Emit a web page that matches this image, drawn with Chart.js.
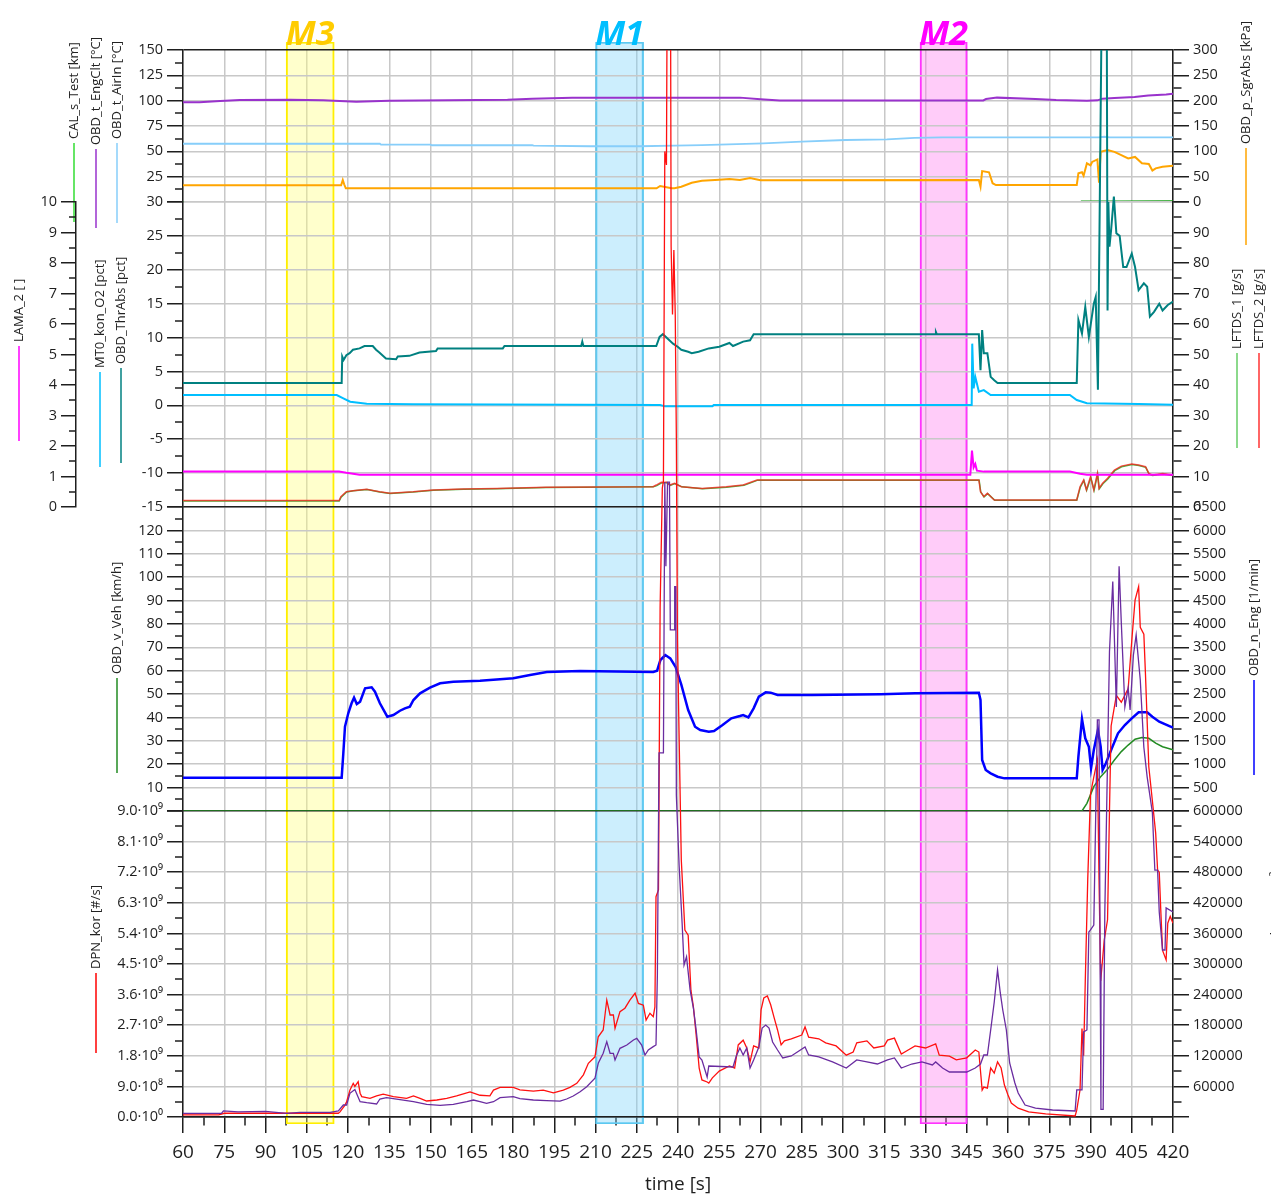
<!DOCTYPE html>
<html>
<head>
<meta charset="utf-8">
<title>Messfahrt</title>
<script src="https://cdn.jsdelivr.net/npm/chart.js@4.4.1/dist/chart.umd.min.js"></script>
<style>
  body { margin: 0; background: #fff; }
  #wrap { position: relative; width: 1280px; height: 1196px; }
  #wrap canvas { position: absolute; left: 0; top: 0; }
</style>
</head>
<body>
<div id="wrap">
  <canvas id="cBase" width="1280" height="1196"></canvas>
  <canvas id="cBand" width="1280" height="1196"></canvas>
  <canvas id="cTop" width="1280" height="1196"></canvas>
  <canvas id="cMid" width="1280" height="1196"></canvas>
  <canvas id="cSpeed" width="1280" height="1196"></canvas>
  <canvas id="cPn" width="1280" height="1196"></canvas>
</div>
<script>
// time axis [s]
const T_MIN = 60, T_MAX = 420;

// marker windows
const markerNames = ['M3', 'M1', 'M2'];
const markerStart = [97.5, 210, 328];
const markerEnd = [115, 227.5, 345.2];

// DPN axis tick labels
const dpnTicks = ['0.0·10⁰', '9.0·10⁸', '1.8·10⁹', '2.7·10⁹', '3.6·10⁹', '4.5·10⁹',
  '5.4·10⁹', '6.3·10⁹', '7.2·10⁹', '8.1·10⁹', '9.0·10⁹'];

// ---- panel 1, upper part: [t, value]
const engClt = [[60,98.4],[66,98.4],[73.5,99.7],[80.7,100.6],[99,101],[111,100.3],[123,99],[135,100],
  [178,101],[187,102],[201.5,103],[262.5,103],[270,101.5],[277,100.2],[351,100.2],[352,101.6],[356,103],
  [370,101.6],[377.5,100.6],[388.7,100],[392.5,100.3],[394.4,102],[398.7,102.6],[406,103.6],[411,105.2],
  [417.5,106.2],[420,106.8]];
const airIn = [[60,57.5],[131.6,57.5],[132,56.6],[150,56.6],[150.5,56],[187,56],[187.5,55.6],[208,55],
  [226,55],[238.7,55.6],[248.7,56.2],[271,57.9],[285,59.5],[301,61.2],[316,61.8],[326,63.2],[336,63.8],
  [393,63.8],[395,64.4],[397,63.8],[420,63.8]];
const calTest = [[60,0],[386.5,0],[400,0.1],[420,0.3]];
const sgrAbs = [[60,33],[117.5,33],[118.1,43.4],[118.6,35],[119.2,27],[232.2,27],[233.5,31.6],[237.7,27],
  [238.7,27],[241.2,30],[245,38],[248.7,42],[255,44],[258.7,45.4],[262.5,43.4],[266.2,47.4],[270,42.8],
  [349.4,43.4],[350,30.3],[350.6,61],[353.1,58.6],[354.4,37],[355.6,33.5],[385,33.5],[385.6,56.6],
  [386.9,58.6],[387.5,52],[388.7,76.3],[390,72.5],[390.6,79],[392.5,84],[393.1,38],[393.7,99],[396.2,102.6],
  [398.7,99],[401.2,92.7],[403.7,86],[406.2,89],[408.7,76.3],[411.2,75],[412.5,62],[413.7,66.5],
  [416.2,69.7],[420,71.7]];

// ---- panel 1, lower part
const thrAbs = [[60,3.3],[117.7,3.3],[117.9,7.2],[118.4,6.7],[119.4,7.4],[120.6,7.7],[121.8,8.2],[124.2,8.4],
  [126,8.75],[129,8.75],[130.2,8.2],[131.4,7.8],[133.8,6.9],[137.5,6.8],[138.1,7.2],[142.3,7.3],[146,7.8],
  [152,8.0],[152.6,8.4],[176.3,8.4],[176.9,8.75],[204.8,8.75],[205.2,9.4],[205.6,8.75],[232.1,8.75],
  [233.3,10.1],[234.5,10.5],[235.8,10.0],[238.2,9.1],[240,8.6],[241.2,8.2],[243.7,7.9],[245,7.7],[247.5,7.9],
  [251.2,8.4],[255,8.65],[258.7,9.2],[260,8.75],[263.7,9.4],[266.2,9.6],[267.5,10.5],[333.5,10.5],
  [333.8,10.8],[334.1,10.5],[349.4,10.5],[350,5.2],[350.6,11.1],[351.2,7.7],[352.5,7.7],[353.7,4.2],
  [355,3.7],[356.2,3.3],[385,3.3],[385.6,12.6],[386.9,10.6],[388.1,14.5],[389.4,10.1],[391.2,15.0],
  [391.9,16.0],[392.7,2.3],[394.1,60],[395.9,60],[396.2,14],[396.5,30],[396.9,23.4],[397.5,25.9],
  [398.5,30.8],[399.4,25.4],[400.6,25],[401.9,20.4],[403.1,20.4],[405,22.4],[406.2,20.4],[407.5,17],
  [409.4,18],[410.6,17.5],[411.6,13.1],[413.1,13.8],[415,15],[416.2,14],[418.1,14.8],[420,15.3]];
const mt0O2 = [[60,1.52],[115.9,1.52],[118.3,1.03],[120.8,0.53],[126.8,0.24],[143.8,0.15],[233.5,0.04],
  [235.3,-0.15],[252.5,-0.15],[253,0.04],[346.8,0.04],[347,9.1],[347.5,2.5],[348.1,4.2],[349.4,2.0],
  [351.2,2.25],[353.7,1.52],[382.5,1.52],[385,0.78],[388.7,0.3],[407.5,0.2],[420,0.09]];
const lama2 = [[60,1.16],[116.7,1.16],[119.4,1.12],[124.2,1.06],[346.3,1.06],[346.9,1.85],[347.5,1.3],
  [348.1,1.41],[348.7,1.19],[351.2,1.16],[382.5,1.16],[386.2,1.09],[388.7,1.06],[420,1.06]];
const lftds2 = [[60,2.1],[116.8,2.1],[117.4,3.4],[119.4,5.0],[121.8,5.35],[126.7,5.8],[131.5,5.0],[135.2,4.5],
  [143.7,5.0],[151,5.6],[161.8,5.9],[174,6.1],[192.1,6.45],[230.9,6.66],[232.1,7.2],[233.9,8.1],[235.8,8.1],
  [237,7.2],[238.7,7.8],[241.2,6.66],[248.7,6.1],[257.5,6.6],[263.7,7.2],[268.7,8.85],[349.4,8.85],[350,5.0],
  [351.2,3.4],[352.5,4.5],[355,2.3],[385,2.3],[386.2,6.66],[387.5,8.85],[388.5,5.6],[390,9.9],[391.2,5.6],
  [392.5,11.0],[393.1,6.1],[394.4,7.8],[396.2,9.4],[398.7,12.1],[401.2,13.4],[405,14.1],[407.5,13.8],
  [410,13.2],[411.2,11.0],[412.5,10.5],[416.2,11],[420,10.5]];
const lftds1 = [[60,2.0],[116.8,2.0],[117.5,3.2],[119.5,4.9],[122,5.3],[127,5.7],[131.5,4.9],[135.3,4.4],
  [143.7,4.9],[151,5.5],[162,5.8],[174,6.0],[192,6.4],[231,6.6],[232.3,7.0],[234,7.9],[236,8.0],[237.2,7.1],
  [238.9,7.7],[241.4,6.6],[249,6.0],[257.7,6.5],[264,7.1],[269,8.8],[349.5,8.8],[350.1,4.9],[351.3,3.3],
  [352.6,4.4],[355.2,2.2],[385,2.2],[386.3,6.5],[387.6,8.7],[388.6,5.5],[390.1,9.7],[391.3,5.5],[392.6,10.8],
  [393.2,6.0],[394.5,7.6],[396.3,9.2],[398.8,11.9],[401.3,13.2],[405.1,13.9],[407.6,13.6],[410.1,13.0],
  [411.3,10.8],[412.6,10.3],[416.3,10.8],[420,10.3]];

// ---- panel 2
const nEng = [[60,712],[117.7,712],[118.3,1234],[118.9,1802],[120.1,2089],[121.3,2303],[122.2,2423],
  [123.2,2288],[124.4,2337],[126.2,2623],[128.6,2644],[129.8,2551],[131.6,2303],[134.3,2016],[136.5,2052],
  [138.9,2144],[140.7,2195],[142.5,2230],[143.8,2373],[146.2,2516],[149.8,2636],[153.5,2730],[158.3,2765],
  [168,2786],[180.1,2837],[186.2,2908],[192.3,2972],[204.4,2993],[231,2972],[232.4,3000],[233.6,3228],
  [235.4,3335],[237.2,3264],[239.1,3085],[241.2,2700],[243.7,2159],[246.2,1802],[248.1,1732],[251.2,1695],
  [253.1,1710],[256.2,1839],[259.4,1982],[262.5,2031],[263.7,2052],[265.6,2003],[267.5,2195],[269.4,2444],
  [271.9,2537],[273.7,2530],[276.2,2480],[288.7,2480],[313.7,2494],[326.2,2516],[349.4,2530],[350,2373],
  [350.6,1090],[351.9,877],[353.7,806],[356.2,733],[358.7,698],[385,698],[385.6,1161],[386.9,1967],
  [388.1,1554],[389.4,1375],[390.2,913],[391.2,1304],[392.7,1732],[393.7,1375],[394.4,877],[395.6,1020],
  [397.5,1304],[400,1661],[402.5,1839],[405,1982],[407.5,2110],[410.6,2110],[412.5,2016],[415,1909],
  [418.7,1817],[420,1781]];
const vVeh = [[60,0],[386.9,0],[388.7,3.3],[391.2,10.4],[393.7,14.7],[396.2,17.8],[398.7,21.8],[401.2,25.4],
  [403.7,28.2],[406.2,30.7],[408.7,31.4],[411.2,31.1],[413.7,29.0],[416.2,27.5],[420,26.2]];

// ---- panel 3
const dpnKor = [[60,0.06e9],[73,0.06e9],[75,0.11e9],[116.5,0.11e9],[117.1,0.15e9],[118.9,0.35e9],[119.5,0.45e9],
  [120.7,0.79e9],[121.9,0.99e9],[122.5,0.9e9],[123.7,1.04e9],[124.4,0.7e9],[125,0.6e9],[128,0.55e9],
  [130.4,0.62e9],[132.8,0.67e9],[136.5,0.6e9],[141.3,0.55e9],[143.8,0.62e9],[146.2,0.55e9],[148.6,0.47e9],
  [152.3,0.5e9],[155.9,0.55e9],[159.5,0.62e9],[164.4,0.74e9],[168,0.64e9],[171.6,0.62e9],[172.9,0.79e9],
  [175.3,0.87e9],[180.1,0.87e9],[182.5,0.8e9],[187.4,0.76e9],[191,0.79e9],[194.7,0.71e9],[198.3,0.79e9],
  [200.7,0.87e9],[203.2,0.99e9],[205.6,1.24e9],[207.4,1.58e9],[209.8,1.77e9],[211,2.36e9],[212.8,2.56e9],
  [214.1,3.44e9],[215.3,3.0e9],[216.5,3.0e9],[217.1,2.61e9],[218.9,3.1e9],[220.7,3.2e9],[222.5,3.44e9],
  [224.4,3.64e9],[225.6,3.34e9],[227.4,3.29e9],[228.4,2.85e9],[229.8,3.05e9],[231,2.95e9],[231.6,3.24e9],
  [232,6.48e9],[232.9,6.68e9],[233.5,1.5e10],[234.3,1.85e10],[234.7,1.87e10],[235.2,2.84e10],[235.8,2.8e10],
  [236.2,3.6e10],[237.2,3.6e10],[237.5,2.56e10],[238,2.36e10],[238.5,2.55e10],[239,2.36e10],[239.4,2.0e10],
  [239.8,1.4e10],[240.6,1.03e10],[241.2,7.56e9],[242.5,5.5e9],[243.7,5.35e9],[244.7,3.73e9],[245.6,3.24e9],
  [246.6,2.41e9],[247.7,1.44e9],[248.7,1.09e9],[250.6,1.03e9],[251.2,1.0e9],[252.5,1.15e9],[255,1.35e9],
  [258.7,1.5e9],[260.6,1.44e9],[261.9,2.12e9],[263.7,2.26e9],[265,2.03e9],[266.2,1.62e9],[267.5,2.09e9],
  [269.4,2.03e9],[270.2,3.15e9],[271.2,3.5e9],[272.5,3.56e9],[273.7,3.3e9],[275,2.91e9],[276.2,2.56e9],
  [277.5,2.12e9],[278.7,2.24e9],[281.2,2.3e9],[285,2.41e9],[286.2,2.65e9],[287.5,2.35e9],[291.2,2.3e9],
  [293.7,2.18e9],[297.5,2.09e9],[301.2,1.82e9],[303.7,1.91e9],[305,2.18e9],[308.7,2.24e9],[311.2,2.03e9],
  [315,2.09e9],[316.2,2.26e9],[318.7,2.32e9],[321.2,1.85e9],[323.7,1.97e9],[326.2,2.09e9],[330,2.03e9],
  [333.7,2.15e9],[335,1.82e9],[338.7,1.79e9],[341.2,1.68e9],[345,1.74e9],[348.1,1.97e9],[349.4,1.91e9],
  [350.6,0.79e9],[351.2,0.88e9],[352.5,0.85e9],[353.7,1.44e9],[355,1.29e9],[356.2,1.62e9],[357.5,1.44e9],
  [358.7,0.94e9],[360,0.65e9],[361.2,0.41e9],[363.7,0.26e9],[367.5,0.15e9],[373.7,0.09e9],[384.4,0.03e9],
  [385,0.2e9],[386.2,0.8e9],[386.9,2.6e9],[387.5,1.8e9],[388.1,4.0e9],[389,7e9],[390,9.5e9],[391.2,1.0e10],
  [392.5,1.05e10],[393.1,7e9],[393.7,4.0e9],[395,5.2e9],[396.2,5.8e9],[396.9,9e9],[397.5,1.15e10],
  [399.4,1.24e10],[401.2,1.22e10],[403.7,1.26e10],[405,1.4e10],[406.2,1.52e10],[407.5,1.56e10],
  [408.1,1.44e10],[409.4,1.42e10],[410,1.3e10],[411.2,1.03e10],[412.5,9.3e9],[413.7,8.35e9],[414.4,7.26e9],
  [415,7.2e9],[415.6,6.0e9],[416.2,4.9e9],[417.5,4.62e9],[418.1,5.7e9],[419,5.9e9],[420,5.7e9]];
const naPn = [[60,7000],[74,7000],[74.7,12000],[80,10000],[90,11000],[97.7,7000],[102.5,9000],[113.5,9000],
  [116.5,12000],[118.3,23500],[119.5,23500],[120.7,46500],[122.5,54000],[124.4,30000],[126.8,28000],
  [130.4,25500],[131.6,35300],[134,37800],[138.9,34000],[143.8,30000],[148.6,24900],[153.5,22900],
  [158.3,24900],[163.2,30000],[165.6,33300],[168,30000],[170.4,26900],[172.9,30000],[175.3,37800],
  [180.1,39800],[182.5,36000],[187.4,33300],[192.2,32000],[197.1,31000],[199.5,35300],[201.9,41200],
  [204.4,49600],[206.8,59400],[209.8,75900],[211,105300],[212.8,124900],[214.1,147700],[215.3,124900],
  [216.5,124900],[217.1,111800],[218.9,134700],[221.4,141200],[223.8,151000],[225,154300],[226.8,141200],
  [228,121600],[229.2,131400],[231,137900],[232,141200],[232.5,278500],[233.1,714000],[234.7,714000],
  [235.2,1245000],[235.6,1080000],[236.2,1245000],[236.9,1245000],[237.2,955000],[238.6,955000],
  [238.8,1040000],[239.2,1040000],[239.4,631000],[240.4,494000],[241.5,380000],[242.2,298000],
  [243.1,314000],[244.4,249000],[245.6,213700],[246.6,170600],[247.7,117700],[248.7,111800],[250.6,78400],
  [251.2,100000],[260,98000],[261.2,119600],[262.5,135300],[263.7,121600],[265,135300],[266.2,96100],
  [267.5,111800],[269.4,137300],[270.6,174500],[271.9,180400],[273.1,174500],[274.4,147100],[276.2,131400],
  [278.1,115700],[281.2,119600],[286.2,137300],[287.5,121600],[291.2,117700],[296.2,107900],[301.2,96100],
  [305,111800],[308.7,107900],[312.5,103900],[316.2,111800],[318.7,115700],[321.2,96100],[325,103900],
  [328.7,107900],[332.5,102000],[333.7,107900],[336.2,96100],[338.7,88200],[345,88200],[348.1,96100],
  [350,103900],[351.2,121600],[352.5,121600],[353.7,170600],[355,225500],[356.2,288300],[357.2,243200],
  [358.1,209800],[359.4,170600],[360.6,105900],[362.5,66700],[363.7,47100],[366.2,23500],[370,17600],
  [376.2,13700],[384.4,11800],[385,53000],[386.9,53000],[387.5,166700],[388.7,170600],[389.4,362800],
  [390,366700],[391.2,376500],[391.9,592200],[392.5,778500],[393.1,778500],[393.5,300000],[393.8,15000],
  [394.6,15000],[395.2,400000],[396.9,912000],[398.1,1050000],[399.4,804000],[400.4,1080000],[401.2,969000],
  [402.5,804000],[403.7,841000],[404.4,798000],[405.6,906000],[406.6,945000],[408.1,857000],[409.4,725000],
  [410.6,667000],[412.5,597000],[413.4,484000],[414.4,484000],[415,402000],[416.2,327500],[417.1,327500],
  [417.5,410000],[420,402000]];

// ---- look
Chart.defaults.font.family = "'Open Sans', 'Noto Sans', sans-serif";
const INK = '#1e1e1e';
const GRID = '#c8c8c8';

// rotated axis captions with their colour keys (layout only)
const sideLabels = [
  { text: 'LAMA_2 [ ]', color: '#ff00ff', x: 19, y0: 346, y1: 441 },
  { text: 'CAL_s_Test [km]', color: '#33dd33', x: 74, y0: 143, y1: 222 },
  { text: 'OBD_t_EngClt [°C]', color: '#9932cc', x: 96, y0: 149, y1: 228 },
  { text: 'OBD_t_AirIn [°C]', color: '#87cefa', x: 117, y0: 143, y1: 223 },
  { text: 'MT0_kon_O2 [pct]', color: '#00bfff', x: 100, y0: 372, y1: 467 },
  { text: 'OBD_ThrAbs [pct]', color: '#008080', x: 121, y0: 368, y1: 463 },
  { text: 'OBD_v_Veh [km/h]', color: '#228b22', x: 117, y0: 678, y1: 773 },
  { text: 'DPN_kor [#/s]', color: '#ff0000', x: 96, y0: 973, y1: 1053 },
  { text: 'OBD_p_SgrAbs [kPa]', color: '#ffa500', x: 1246, y0: 148, y1: 245 },
  { text: 'LFTDS_1 [g/s]', color: '#66cc66', x: 1237, y0: 353, y1: 448 },
  { text: 'LFTDS_2 [g/s]', color: '#ff3333', x: 1259, y0: 353, y1: 448 },
  { text: 'OBD_n_Eng [1/min]', color: '#0000ff', x: 1254, y0: 680, y1: 775 },
  { text: 'N/a_PN_kor [#/cm³]', color: null, x: 1276, y0: 990, y1: 990, cut: 1271 }
];
const markerEdge = ['#ffee00', '#5cc8f0', '#ff33ff'];
const markerFill = ['rgba(255,255,120,0.38)', 'rgba(120,210,250,0.38)', 'rgba(255,120,240,0.38)'];
const markerText = ['#ffcc00', '#00bfff', '#ff00ff'];

function isMultiple(v, step) {
  const r = v / step;
  return Math.abs(r - Math.round(r)) < 1e-6;
}
function inList(list, v) {
  return (list || []).some(b => Math.abs(v - b) <= 1e-6 * Math.max(1, Math.abs(b)));
}

// y axis with labelled major ticks and short unlabelled minor ticks
function yAxis(o) {
  const left = o.pos === 'left';
  const major = c => !!c.tick && isMultiple(c.tick.value, o.major);
  return {
    type: 'linear', position: o.pos, min: o.min, max: o.max, weight: o.weight || 0,
    afterFit: s => { s.width = o.width; },
    border: { display: true, color: INK, width: 1.5 },
    grid: {
      drawOnChartArea: !!o.grid,
      tickLength: o.tickLen || 16,
      color: c => (c.tick && inList(o.black, c.tick.value)) ? INK : GRID,
      lineWidth: c => {
        if (!c.tick) return 1;
        if (inList(o.none, c.tick.value)) return 0;
        return major(c) ? 1.5 : 0;
      },
      tickColor: INK,
      tickWidth: 1.5,
      tickBorderDash: c => major(c) ? [] : (left ? [8, 8] : [8, 100]),
      tickBorderDashOffset: c => major(c) ? 0 : (left ? 8 : 0)
    },
    ticks: {
      stepSize: o.minor, autoSkip: false, padding: 4, color: INK,
      font: { size: 14.5 },
      callback: v => (!isMultiple(v, o.major) || inList(o.hide, v)) ? '' : (o.fmt ? o.fmt(v) : String(v))
    }
  };
}

const hiddenX = { type: 'linear', min: T_MIN, max: T_MAX, display: false };

function options(pad, scales, extra) {
  return Object.assign({
    responsive: false, animation: false, devicePixelRatio: 1, events: [],
    layout: { padding: pad },
    plugins: { legend: { display: false }, tooltip: { enabled: false } },
    elements: { point: { radius: 0 }, line: { tension: 0, fill: false } },
    scales
  }, extra || {});
}

function series(points, color, width, yAxisID, extra) {
  return Object.assign({
    data: points.map(p => ({ x: p[0], y: p[1] })),
    borderColor: color, borderWidth: width,
    xAxisID: 'x', yAxisID, pointRadius: 0, fill: false
  }, extra || {});
}

// captions on the left and right
const sideLabelPlugin = {
  id: 'sideLabels',
  afterDraw(chart) {
    const ctx = chart.ctx;
    ctx.save();
    ctx.font = "13px 'Open Sans', sans-serif";
    ctx.fillStyle = '#222';
    ctx.textAlign = 'left';
    ctx.textBaseline = 'middle';
    for (const l of sideLabels) {
      if (l.color) {
        ctx.strokeStyle = l.color;
        ctx.lineWidth = 1.5;
        ctx.beginPath();
        ctx.moveTo(l.x, l.y0);
        ctx.lineTo(l.x, l.y1);
        ctx.stroke();
      }
      ctx.save();
      if (l.cut) {
        ctx.beginPath();
        ctx.rect(0, 0, l.cut, chart.height);
        ctx.clip();
      }
      ctx.translate(l.x, l.y0 - 4);
      ctx.rotate(-Math.PI / 2);
      ctx.fillText(l.text, 0, 0);
      ctx.restore();
    }
    ctx.restore();
  }
};

// M1..M3 titles above the marker bands
const markerPlugin = {
  id: 'markerNames',
  afterDatasetsDraw(chart) {
    const ctx = chart.ctx, xs = chart.scales.x, top = chart.chartArea.top;
    ctx.save();
    ctx.font = "italic bold 34px 'Open Sans', sans-serif";
    ctx.textAlign = 'center';
    ctx.textBaseline = 'alphabetic';
    markerNames.forEach((n, i) => {
      ctx.fillStyle = markerText[i];
      ctx.fillText(n, xs.getPixelForValue((markerStart[i] + markerEnd[i]) / 2), top + 3);
    });
    ctx.restore();
  }
};

// 1. base: time axis and vertical grid
new Chart(document.getElementById('cBase'), {
  type: 'line',
  data: { datasets: [] },
  options: options({ left: 183, right: 107, top: 50, bottom: 0 }, {
    x: {
      type: 'linear', position: 'bottom', min: T_MIN, max: T_MAX,
      afterFit: s => { s.height = 79; },
      border: { display: true, color: INK, width: 1.5 },
      grid: {
        drawOnChartArea: true, tickLength: 16,
        color: GRID,
        lineWidth: c => (c.tick && isMultiple(c.tick.value, 15)) ? 1.5 : 0,
        tickColor: INK, tickWidth: 1.5,
        tickBorderDash: c => (c.tick && isMultiple(c.tick.value, 15)) ? [] : [8, 100]
      },
      ticks: {
        stepSize: 7.5, autoSkip: false, maxRotation: 0, minRotation: 0, padding: 8,
        color: INK, font: { size: 19 },
        callback: v => isMultiple(v, 15) ? String(v) : ''
      },
      title: { display: true, text: 'time [s]', color: INK, font: { size: 19 }, padding: { top: 0, bottom: 0 } }
    },
    y: { type: 'linear', min: 0, max: 1, display: false }
  }),
  plugins: [sideLabelPlugin]
});

// 2. marker bands
new Chart(document.getElementById('cBand'), {
  type: 'bar',
  data: {
    labels: ['band'],
    datasets: markerNames.map((n, i) => ({
      label: n,
      data: [{ x: [markerStart[i], markerEnd[i]], y: 'band' }],
      backgroundColor: markerFill[i],
      borderColor: markerEdge[i],
      borderWidth: 1.5,
      borderSkipped: false,
      grouped: false,
      barPercentage: 1,
      categoryPercentage: 1
    }))
  },
  options: options({ left: 183, right: 107, top: 42, bottom: 72 }, {
    x: hiddenX,
    y: { type: 'category', display: false }
  }, { indexAxis: 'y' }),
  plugins: [markerPlugin]
});

// 3. panel 1 upper: temperatures, CAL distance, pressure
new Chart(document.getElementById('cTop'), {
  type: 'line',
  data: { datasets: [
    series(sgrAbs, '#ffa500', 2, 'yR'),
    series(calTest, '#33dd33', 2, 'yL', {
      segment: {
        borderColor: c => c.p0.parsed.x >= 386 ? '#0c9a0c' : undefined,
        borderWidth: c => c.p0.parsed.x >= 386 ? 3 : undefined
      }
    }),
    series(engClt, '#9932cc', 2, 'yL'),
    series(airIn, '#87cefa', 1.8, 'yL')
  ] },
  options: options({ left: 123, right: 47, top: 50, bottom: 994 }, {
    x: hiddenX,
    yL: yAxis({ pos: 'left', min: 0, max: 150, minor: 12.5, major: 25, width: 60, grid: true, hide: [0], black: [150] }),
    yR: yAxis({ pos: 'right', min: 0, max: 300, minor: 25, major: 50, width: 60 })
  })
});

// 4. panel 1 lower: throttle, O2, lambda, mass flows
new Chart(document.getElementById('cMid'), {
  type: 'line',
  data: { datasets: [
    series(thrAbs, '#008080', 2, 'yI', { clip: { left: 0, top: 152, right: 0, bottom: 0 } }),
    series(mt0O2, '#00bfff', 2, 'yI'),
    series(lama2, '#ff00ff', 2, 'yLama'),
    series(lftds2, 'rgba(255,30,30,0.75)', 1.5, 'yR2'),
    series(lftds1, '#44bb44', 1.5, 'yR2')
  ] },
  options: options({ left: 16, right: 47, top: 202, bottom: 689 }, {
    x: hiddenX,
    yLama: yAxis({ pos: 'left', min: 0, max: 10, minor: 0.5, major: 1, width: 60, weight: 10, tickLen: 15 }),
    yI: yAxis({ pos: 'left', min: -15, max: 30, minor: 2.5, major: 5, width: 107, grid: true }),
    yR2: yAxis({ pos: 'right', min: 0, max: 100, minor: 5, major: 10, width: 60, hide: [100] })
  })
});

// 5. panel 2: engine speed, vehicle speed
new Chart(document.getElementById('cSpeed'), {
  type: 'line',
  data: { datasets: [
    series(vVeh, '#228b22', 1.5, 'yV'),
    series(nEng, '#0000ff', 2.5, 'yN')
  ] },
  options: options({ left: 123, right: 47, top: 507, bottom: 385 }, {
    x: hiddenX,
    yV: yAxis({ pos: 'left', min: 0, max: 130, minor: 5, major: 10, width: 60, grid: true, hide: [0, 130], black: [0, 130] }),
    yN: yAxis({ pos: 'right', min: 0, max: 6500, minor: 250, major: 500, width: 60, hide: [0] })
  })
});

// 6. panel 3: particle number (spikes may run up through the panels above)
const spikeClip = { left: 0, top: 761, right: 0, bottom: 2 };
new Chart(document.getElementById('cPn'), {
  type: 'line',
  data: { datasets: [
    series(naPn, '#6a2ca0', 1.3, 'yP', { clip: spikeClip }),
    series(dpnKor, '#ff1010', 1.3, 'yD', { clip: spikeClip })
  ] },
  options: options({ left: 83, right: 17, top: 811, bottom: 79 }, {
    x: hiddenX,
    yD: yAxis({ pos: 'left', min: 0, max: 9e9, minor: 4.5e8, major: 9e8, width: 100, grid: true,
      none: [9e9], black: [0], fmt: v => dpnTicks[Math.round(v / 9e8)] }),
    yP: yAxis({ pos: 'right', min: 0, max: 600000, minor: 30000, major: 60000, width: 90, hide: [0] })
  })
});
</script>
</body>
</html>
